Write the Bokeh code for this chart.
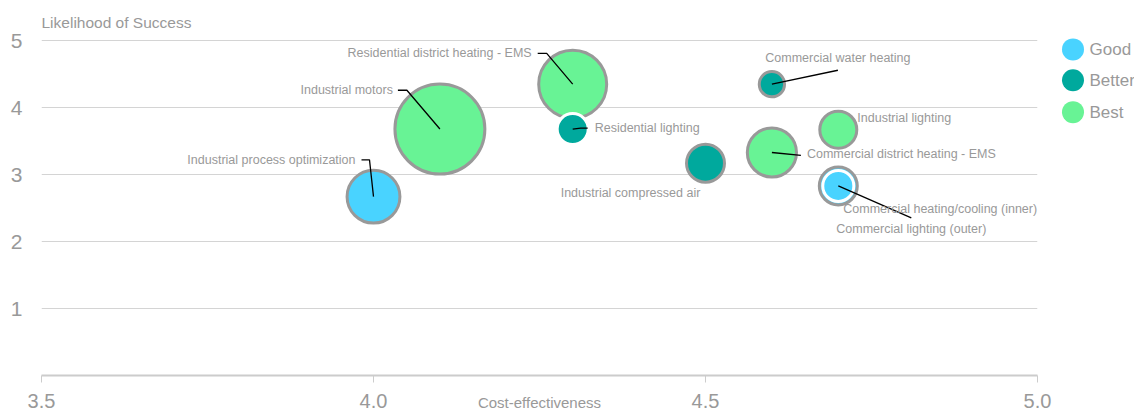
from bokeh.plotting import figure
from bokeh.models import Range1d, FixedTicker, ColumnDataSource, Label
from bokeh.layouts import row
from bokeh.embed import file_html
from bokeh.resources import INLINE
import math

# ---------------- data ----------------
names = ["Industrial motors", "Residential district heating - EMS",
         "Industrial process optimization", "Commercial district heating - EMS",
         "Industrial compressed air", "Industrial lighting",
         "Commercial lighting (outer)", "Commercial water heating",
         "Residential lighting", "Commercial heating/cooling (inner)"]
cost_effectiveness = [4.1, 4.3, 4.0, 4.6, 4.5, 4.7, 4.7, 4.6, 4.3, 4.7]
likelihood = [3.68, 4.35, 2.67, 3.33, 3.17, 3.67, 2.83, 4.35, 3.68, 2.83]
impact = [21.6, 12.6, 7.8, 6.8, 4.2, 4.0, 4.2, 2.0, 2.9, 2.9]
tier = ["Best", "Best", "Good", "Best", "Better", "Best", "Good", "Better", "Better", "Good"]

tiers = ["Good", "Better", "Best"]
x_ticks = [3.5, 4.0, 4.5, 5.0]
x_tick_labels = ["3.5", "4.0", "4.5", "5.0"]
y_ticks = [1, 2, 3, 4, 5]

# ---------------- style ----------------
FONT = "Liberation Sans"
GRAY_TEXT = "#999999"
tier_colors = {"Good": "#49D3FF", "Better": "#00A99D", "Best": "#68F395"}
inner_white = {"Residential lighting", "Commercial heating/cooling (inner)"}

W, H = 1060, 413
ML, MR, MT, MB = 41, 23, 10, 36
X0, X1 = 3.5, 5.0
Y0, Y1 = 0.0, 5.45
XPX = (W - ML - MR) / (X1 - X0)
YPX = (H - MT - MB) / (Y1 - Y0)

def off(x, y, dx, dy):
    return x + dx / XPX, y - dy / YPX

p = figure(width=W, height=H, x_range=Range1d(X0, X1), y_range=Range1d(Y0, Y1),
           toolbar_location=None, output_backend="svg",
           min_border_left=ML, min_border_right=MR, min_border_top=MT, min_border_bottom=MB)
p.outline_line_color = None
p.xgrid.grid_line_color = None
p.ygrid.ticker = FixedTicker(ticks=y_ticks)
p.ygrid.grid_line_color = "#d4d4d4"
p.ygrid.grid_line_width = 1

p.yaxis.ticker = FixedTicker(ticks=y_ticks)
p.yaxis.axis_line_color = None
p.yaxis.major_tick_line_color = None
p.yaxis.minor_tick_line_color = None
p.yaxis.major_tick_out = 0
p.yaxis.major_tick_in = 0
p.yaxis.major_label_standoff = 19
p.yaxis.major_label_text_font = FONT
p.yaxis.major_label_text_font_size = "21px"
p.yaxis.major_label_text_color = GRAY_TEXT

p.xaxis.ticker = FixedTicker(ticks=x_ticks)
p.xaxis.major_label_overrides = {t: l for t, l in zip(x_ticks, x_tick_labels)}
p.xaxis.axis_line_color = "#cccccc"
p.xaxis.axis_line_width = 2
p.xaxis.major_tick_line_color = "#cccccc"
p.xaxis.major_tick_line_width = 1
p.xaxis.major_tick_out = 7
p.xaxis.major_tick_in = 0
p.xaxis.minor_tick_line_color = None
p.xaxis.major_label_standoff = 11
p.xaxis.major_label_text_font = FONT
p.xaxis.major_label_text_font_size = "20px"
p.xaxis.major_label_text_color = GRAY_TEXT
p.xaxis.axis_label = "Cost-effectiveness"
p.xaxis.axis_label_standoff = -17
p.xaxis.axis_label_text_font = FONT
p.xaxis.axis_label_text_font_size = "15px"
p.xaxis.axis_label_text_font_style = "normal"
p.xaxis.axis_label_text_color = GRAY_TEXT

# bubbles
radius_px = [10 * math.sqrt(v) for v in impact]
src = ColumnDataSource(dict(
    x=cost_effectiveness, y=likelihood, name=names,
    size=[2 * r - 3 for r in radius_px],
    fill=[tier_colors[t] for t in tier],
    line=["white" if n in inner_white else "#999999" for n in names],
))
p.scatter("x", "y", size="size", fill_color="fill", line_color="line",
          line_width=3, source=src)

# label layout: pixel offset from bubble centre, alignment, leader path
label_layout = {
    "Industrial motors": (-47, -39, "right", [(0, 0), (-33, -39), (-42, -39)]),
    "Residential district heating - EMS": (-41, -31, "right", [(0, 0), (-26, -31), (-35, -31)]),
    "Industrial process optimization": (-18, -37, "right", [(0, 0), (-4, -37), (-12, -37)]),
    "Commercial district heating - EMS": (35, 2, "left", [(0, 0), (29, 3)]),
    "Industrial compressed air": (-75, 30, "center", None),
    "Industrial lighting": (19, -12, "left", None),
    "Commercial lighting (outer)": (-2, 43, "left", None),
    "Commercial water heating": (66, -26, "center", [(0, 0), (66, -14)]),
    "Residential lighting": (22, -1, "left", [(0, 0), (8, -1), (15, -1)]),
    "Commercial heating/cooling (inner)": (5, 23, "left", [(0, 0), (73, 32)]),
}

xs, ys = [], []
for n, x, y in zip(names, cost_effectiveness, likelihood):
    dx, dy, align, path = label_layout[n]
    lx, ly = off(x, y, dx, dy)
    p.add_layout(Label(x=lx, y=ly, text=n, text_align=align, text_baseline="middle",
                       text_font=FONT, text_font_size="12.5px", text_color=GRAY_TEXT))
    if path:
        pts = [off(x, y, a, b) for a, b in path]
        xs.append([q[0] for q in pts])
        ys.append([q[1] for q in pts])

p.multi_line(xs, ys, line_color="black", line_width=1.3)

# chart title (y-axis caption)
tx, ty = off(X0, Y0, 0, -(377 - 22))
p.add_layout(Label(x=tx, y=ty, text="Likelihood of Success", text_align="left",
                   text_baseline="middle", text_font=FONT, text_font_size="15.5px",
                   text_color=GRAY_TEXT))

# legend panel
LW = 1134 - W
lg = figure(width=LW, height=H, x_range=Range1d(0, LW), y_range=Range1d(H, 0),
            toolbar_location=None, output_backend="svg", min_border=0)
lg.axis.visible = False
lg.grid.grid_line_color = None
lg.outline_line_color = None
legend_y = [44, 79, 115]
lg.scatter([12.5] * 3, legend_y, size=22, fill_color=[tier_colors[t] for t in tiers],
           line_color=None)
lg.text([29] * 3, legend_y, text=tiers, text_align="left", text_baseline="middle",
        text_font={"value": FONT}, text_font_size={"value": "17px"}, text_color=GRAY_TEXT)

layout = row(p, lg)
open("out.html", "w").write(file_html(layout, INLINE))
